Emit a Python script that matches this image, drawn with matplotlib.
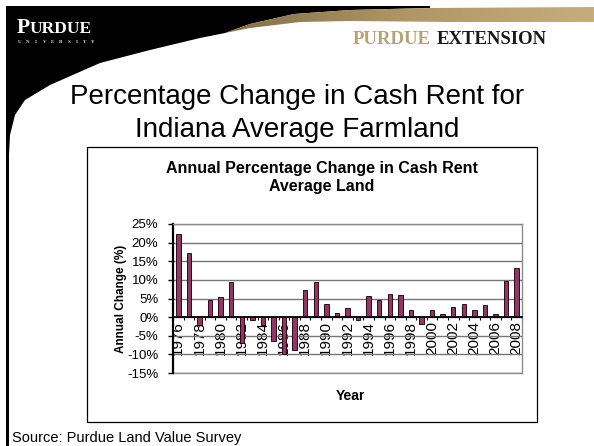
import matplotlib
matplotlib.use('Agg')
import matplotlib.pyplot as plt
import numpy as np
from matplotlib.patches import Polygon, Rectangle
from matplotlib.colors import LinearSegmentedColormap

# ---------------- data ----------------
years = list(range(1976, 2009))
pct_change = [22.4, 17.1, -2.1, 4.5, 5.4, 9.3, -7.0, -0.9, -2.1, -6.4, -10.0, -8.7,
              7.2, 9.3, 3.6, 1.2, 2.4, -0.9, 5.7, 4.5, 6.3, 6.0, 1.9, -1.8,
              1.9, 0.9, 2.8, 3.6, 1.9, 3.3, 0.9, 9.6, 13.2]
y_ticks = [-15, -10, -5, 0, 5, 10, 15, 20, 25]
y_tick_labels = ['-15%', '-10%', '-5%', '0%', '5%', '10%', '15%', '20%', '25%']
x_label_years = years[::2]

slide_title = "Percentage Change in Cash Rent for\nIndiana Average Farmland"
chart_title_1 = "Annual Percentage Change in Cash Rent"
chart_title_2 = "Average Land"
y_label = "Annual Change (%)"
x_label = "Year"
source = "Source: Purdue Land Value Survey"

plt.rcParams['font.family'] = ['Liberation Sans', 'DejaVu Sans']

W, H = 594, 446
fig = plt.figure(figsize=(W / 100, H / 100), dpi=100)
fig.patch.set_facecolor('white')

# background / decoration axes in pixel coordinates
bg = fig.add_axes([0, 0, 1, 1], zorder=0)
bg.set_xlim(0, W)
bg.set_ylim(H, 0)
bg.axis('off')

# white boundary curve of header (from right to left)
c_curve = [(594, 22), (450, 22), (350, 21), (300, 22), (250, 28), (200, 38),
           (150, 50), (100, 63), (50, 85), (25, 100), (15, 115), (10, 135), (9, 155)]
b_curve = [(225, 33), (250, 24), (294, 14), (350, 10), (430, 8), (594, 7)]

black_pts = [(6, 6), (430, 6), (430, 8), (350, 10), (294, 14), (250, 24), (225, 33)]
black_pts += [p for p in c_curve if p[0] <= 215]
black_pts += [(9, H), (6, H)]
bg.add_patch(Polygon(black_pts, closed=True, facecolor='black', edgecolor='none', zorder=1))

gold_pts = b_curve + [p for p in c_curve if p[0] >= 250] + [(225, 33)]
gold_poly = Polygon(gold_pts, closed=True, facecolor='none', edgecolor='none', zorder=2)
bg.add_patch(gold_poly)
grad = np.linspace(0, 1, 256).reshape(1, -1)
cmap = LinearSegmentedColormap.from_list('gold', ['#7f6c48', '#b09666', '#c6ad80'])
im = bg.imshow(grad, extent=(215, 594, 36, 4), cmap=cmap, aspect='auto', zorder=2)
im.set_clip_path(gold_poly)

# Purdue logo
bg.text(17, 33, "P", color='white', family='Liberation Serif', fontweight='bold',
        fontsize=15.5, va='baseline', ha='left', zorder=3)
bg.text(30, 33, "URDUE", color='white', family='Liberation Serif', fontweight='bold',
        fontsize=12.5, va='baseline', ha='left', zorder=3)
for i, ch in enumerate("UNIVERSITY"):
    bg.text(20 + i * 8.1, 43, ch, color='#dddddd', family='Liberation Serif',
            fontweight='bold', fontsize=3.6, va='baseline', ha='center', zorder=3)

# Purdue Extension
bg.text(431, 44, "PURDUE", color='#b8a173', family='Liberation Serif', fontweight='bold',
        fontsize=13.5, va='baseline', ha='right', zorder=3)
bg.text(437, 44, "EXTENSION", color='#1a1a1a', family='Liberation Serif', fontweight='bold',
        fontsize=13.5, va='baseline', ha='left', zorder=3)

# slide title
t1, t2 = slide_title.split('\n')
bg.text(297, 104, t1, fontsize=20, ha='center', va='baseline', color='black', zorder=3)
bg.text(297, 137, t2, fontsize=20, ha='center', va='baseline', color='black', zorder=3)

# chart frame
bg.add_patch(Rectangle((87, 147), 537 - 87, 422 - 147, facecolor='white',
                       edgecolor='black', lw=0.9, zorder=1))
bg.text(322, 173, chart_title_1, fontsize=11.5, fontweight='bold', ha='center',
        va='baseline', zorder=3)
bg.text(322, 191, chart_title_2, fontsize=11.5, fontweight='bold', ha='center',
        va='baseline', zorder=3)
bg.text(121, 299, y_label, fontsize=8.5, fontweight='bold', ha='center', va='center',
        rotation=90, zorder=3)
bg.text(350, 396, x_label, fontsize=10, fontweight='bold', ha='center', va='center', zorder=3)

# source
bg.text(12, 442, source, fontsize=10.5, ha='left', va='baseline', zorder=3)

# ---------------- chart ----------------
L, R, T, B = 173, 522, 224, 373
ax = fig.add_axes([L / W, 1 - B / H, (R - L) / W, (B - T) / H], zorder=2)
ax.set_facecolor('white')
x = np.arange(len(years))
ax.bar(x, pct_change, width=0.42, color='#993366', edgecolor='black', linewidth=0.6, zorder=3)

ax.set_xlim(-0.5, len(years) - 0.5)
ax.set_ylim(-15, 25)
ax.set_axisbelow(True)
ax.yaxis.grid(True, color='#777777', lw=1.0)
ax.axhline(-15, color='#8c8c8c', lw=1.0, clip_on=False, zorder=1)

for s in ['top', 'right']:
    ax.spines[s].set_color('#8c8c8c')
    ax.spines[s].set_linewidth(1.0)
ax.spines['left'].set_color('black')
ax.spines['left'].set_linewidth(1.6)
ax.spines['bottom'].set_position(('data', 0))
ax.spines['bottom'].set_color('black')
ax.spines['bottom'].set_linewidth(1.3)
ax.spines['bottom'].set_zorder(4)

ax.set_yticks(y_ticks)
ax.set_yticklabels(y_tick_labels)
ax.tick_params(axis='y', direction='out', length=3.5, width=1.0, pad=7, labelsize=9.5)

label_pos = [years.index(y) for y in x_label_years]
ax.set_xticks(label_pos)
ax.set_xticklabels([str(y) for y in x_label_years], rotation=90)
ax.set_xticks(np.arange(-0.5, len(years), 1), minor=True)
ax.tick_params(axis='x', which='major', length=0, pad=3, labelsize=11)
ax.tick_params(axis='x', which='minor', length=2.5, width=0.8, direction='out')

fig.savefig('out.png', dpi=100)
